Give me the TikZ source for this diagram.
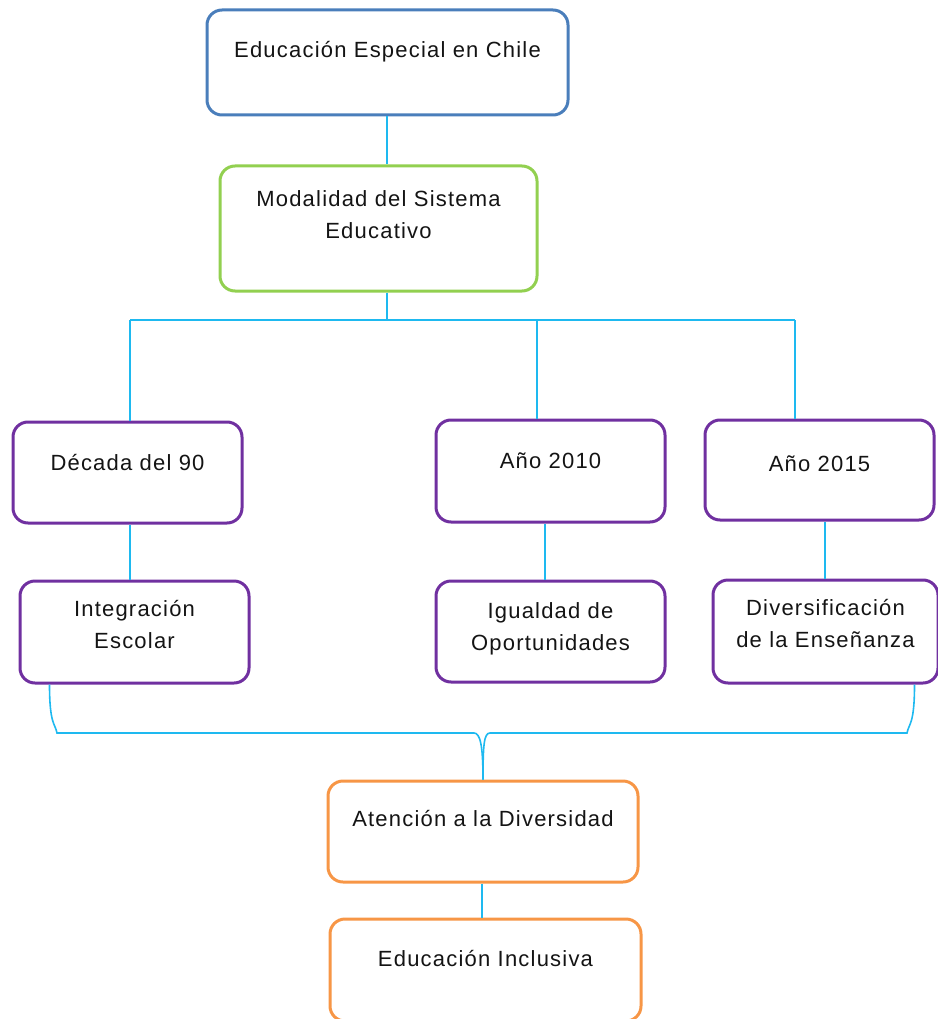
\documentclass[tikz,border=0pt]{standalone}
\usepackage{fontspec}
\setmainfont{Liberation Sans}[LetterSpace=5.5]
\usepackage{tikz}
\usetikzlibrary{positioning}
\definecolor{azulcaja}{RGB}{74,126,187}
\definecolor{verdecaja}{RGB}{146,208,80}
\definecolor{moradocaja}{RGB}{112,48,160}
\definecolor{naranjacaja}{RGB}{247,150,70}
\definecolor{celeste}{RGB}{30,185,240}
\tikzstyle{caja}=[draw,rectangle,rounded corners=15pt,line width=3pt,inner sep=0pt,fill=white,text=black!92,font=\fontsize{22}{32}\selectfont]
\tikzstyle{enlace}=[draw=celeste,line width=1.6pt]
\newcommand{\textocaja}[4]{\parbox[c][#2][t]{#1}{\centering\rule{0pt}{#3}#4}}
\begin{document}
\begin{tikzpicture}[x=1pt,y=-1pt]
\useasboundingbox (0,0) rectangle (937,1019);
\node[caja,draw=azulcaja] (esp) at (387.5,62.5) {\textocaja{361pt}{105pt}{48pt}{Educación Especial en Chile}};
\node[caja,draw=verdecaja] (mod) at (378.5,228.5) {\textocaja{317pt}{125pt}{40pt}{Modalidad del Sistema\\Educativo}};
\node[caja,draw=moradocaja] (decada) at (127.5,472.5) {\textocaja{229pt}{101pt}{48pt}{Década del 90}};
\node[caja,draw=moradocaja] (anio10) at (550.5,471) {\textocaja{229pt}{102pt}{48pt}{Año 2010}};
\node[caja,draw=moradocaja] (anio15) at (819.5,470) {\textocaja{229pt}{100pt}{51pt}{Año 2015}};
\node[caja,draw=moradocaja] (integ) at (134.5,632) {\textocaja{229pt}{102pt}{35pt}{Integración\\Escolar}};
\node[caja,draw=moradocaja] (igual) at (550.5,631.5) {\textocaja{229pt}{101pt}{37pt}{Igualdad de\\Oportunidades}};
\node[caja,draw=moradocaja] (divers) at (825.5,631.5) {\textocaja{225pt}{103pt}{35pt}{Diversificación\\de la Enseñanza}};
\node[caja,draw=naranjacaja] (atencion) at (483,831.5) {\textocaja{310pt}{101pt}{45pt}{Atención a la Diversidad}};
\node[caja,draw=naranjacaja] (inclusiva) at (485.5,970) {\textocaja{311pt}{102pt}{47pt}{Educación Inclusiva}};
\coordinate (rama) at (387,320);
\coordinate (bi) at (130,320);
\coordinate (bm) at (537,320);
\coordinate (bd) at (795,320);
%Enlaces
\draw[enlace] (esp.south -| rama) -- (mod.north -| rama);
\draw[enlace] (mod.south -| rama) -- (rama);
\draw[enlace] (bi) -- (bd);
\draw[enlace] (bi) -- (bi |- decada.north);
\draw[enlace] (bm) -- (bm |- anio10.north);
\draw[enlace] (bd) -- (bd |- anio15.north);
\draw[enlace] (decada.south -| bi) -- (integ.north -| bi);
\draw[enlace] ([xshift=-5.5pt]anio10.south) -- ([xshift=-5.5pt]igual.north);
\draw[enlace] ([xshift=-0.5pt]divers.north) -- ([xshift=-0.5pt]divers.north |- anio15.south);
\draw[enlace] ([xshift=31pt]integ.south west) .. controls +(0,40) and +(-2,-10) .. (57,733) -- (474,733) .. controls +(6,0) and +(0,-35) .. (atencion.north);
\draw[enlace] ([xshift=-25pt]divers.south east) .. controls +(0,40) and +(2,-10) .. (907,733) -- (490,733) .. controls +(-6,0) and +(0,-35) .. (atencion.north);
\draw[enlace] (atencion.south -| 482,0) -- (inclusiva.north -| 482,0);
\end{tikzpicture}
\end{document}
